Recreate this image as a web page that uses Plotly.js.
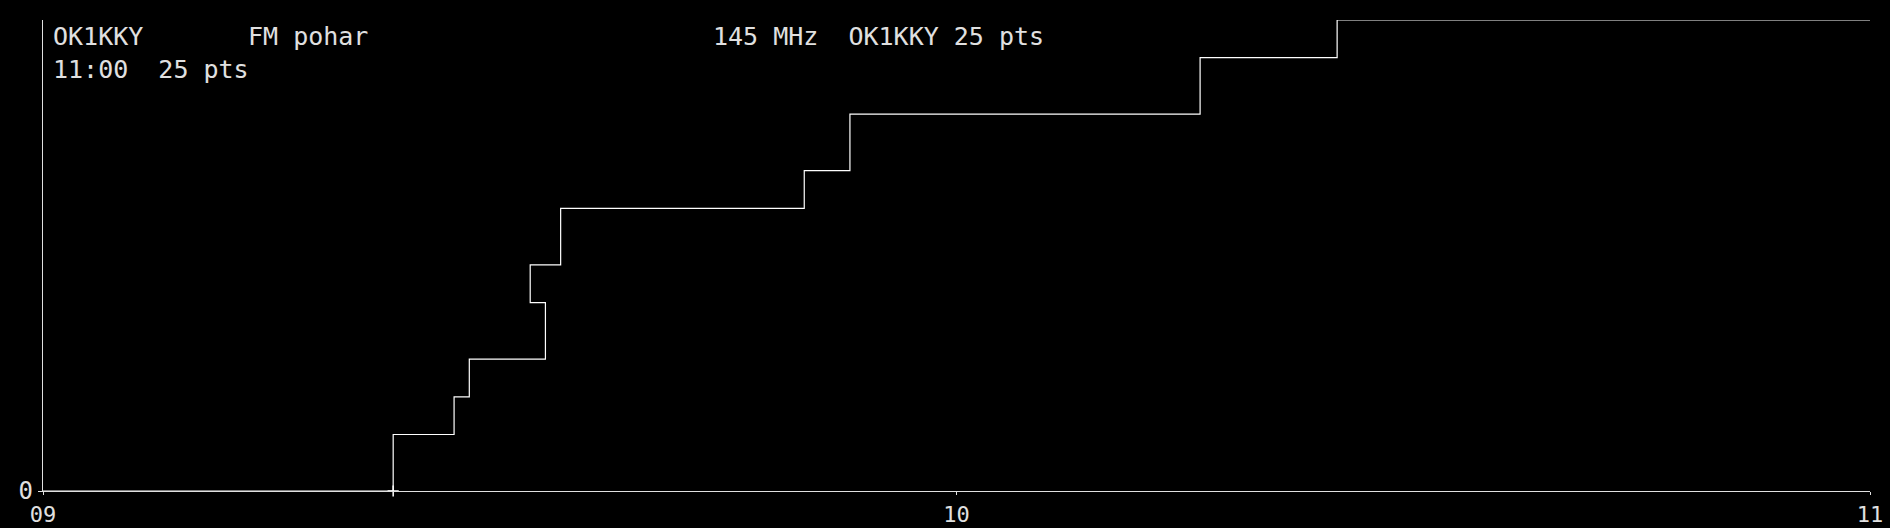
<!DOCTYPE html>
<html>
<head>
<meta charset="utf-8">
<script src="https://cdn.plot.ly/plotly-3.0.1.min.js"></script>
<style>
  html, body { margin: 0; padding: 0; background: #000; }
  #graf { width: 1890px; height: 528px; }
</style>
</head>
<body>
<div id="graf"></div>
<script>
// cumulative score after each QSO (hv steps)
var qsoTimes = ['2024-05-12 09:00:00', '2024-05-12 09:23:00', '2024-05-12 09:27:00',
  '2024-05-12 09:28:00', '2024-05-12 09:33:00', '2024-05-12 09:32:00',
  '2024-05-12 09:34:00', '2024-05-12 09:50:00', '2024-05-12 09:53:00',
  '2024-05-12 10:16:00', '2024-05-12 10:25:00', '2024-05-12 11:00:00'];
var qsoScore = [0, 3, 5, 7, 10, 12, 15, 17, 20, 23, 25, 25];
var startMark = ['2024-05-12 09:23:00'];
var xTicks = ['2024-05-12 09:00:00', '2024-05-12 10:00:00', '2024-05-12 11:00:00'];
var xTickText = ['09', '10', '11'];
var yTicks = [0];

var font = 'DejaVu Sans Mono, monospace';
var txt = '#e0e0e0';

var data = [{
    x: qsoTimes,
    y: qsoScore,
    type: 'scatter',
    mode: 'lines',
    line: { shape: 'hv', color: '#ffffff', width: 1.2 },
    cliponaxis: false,
    hoverinfo: 'skip'
  }, {
    x: startMark,
    y: [0],
    type: 'scatter',
    mode: 'markers',
    marker: { symbol: 'cross-thin', size: 8, line: { color: '#ffffff', width: 1.5 } },
    cliponaxis: false,
    hoverinfo: 'skip'
  }
];

var layout = {
    paper_bgcolor: '#000000',
    plot_bgcolor: '#000000',
    showlegend: false,
    margin: { t: 20, b: 37, l: 43, r: 20 },
    xaxis: {
      type: 'date',
      range: ['2024-05-12 09:00:00', '2024-05-12 11:00:00'],
      tickvals: xTicks,
      ticktext: xTickText,
      showgrid: false,
      zeroline: false,
      showline: true,
      linecolor: '#e0e0e0',
      linewidth: 1.2,
      ticks: 'outside',
      ticklen: 3,
      tickcolor: '#e0e0e0',
      ticklabelstandoff: 0,
      tickfont: { family: font, size: 22, color: txt }
    },
    yaxis: {
      range: [0, 25],
      tickvals: yTicks,
      showgrid: false,
      zeroline: false,
      showline: true,
      linecolor: '#e0e0e0',
      linewidth: 1.2,
      ticks: 'outside',
      ticklen: 4,
      tickcolor: '#e0e0e0',
      ticklabelstandoff: 0,
      tickfont: { family: font, size: 24, color: txt }
    },
    annotations: [
      { text: 'OK1KKY', x: 51, y: 46 },
      { text: 'FM pohar', x: 246, y: 46 },
      { text: '145 MHz  OK1KKY 25 pts', x: 711, y: 46 },
      { text: '11:00  25 pts', x: 51, y: 79 }
    ].map(function (a) {
      return {
        text: a.text.replace(/ /g, '&nbsp;'),
        xref: 'paper', yref: 'paper',
        x: (a.x - 43) / (1890 - 63),
        y: 1 - (a.y - 20) / (528 - 57) - 7 / 471,
        xanchor: 'left', yanchor: 'bottom',
        showarrow: false,
        font: { family: font, size: 25, color: txt }
      };
    })
};

Plotly.newPlot('graf', data, layout, { staticPlot: true });
</script>
</body>
</html>
